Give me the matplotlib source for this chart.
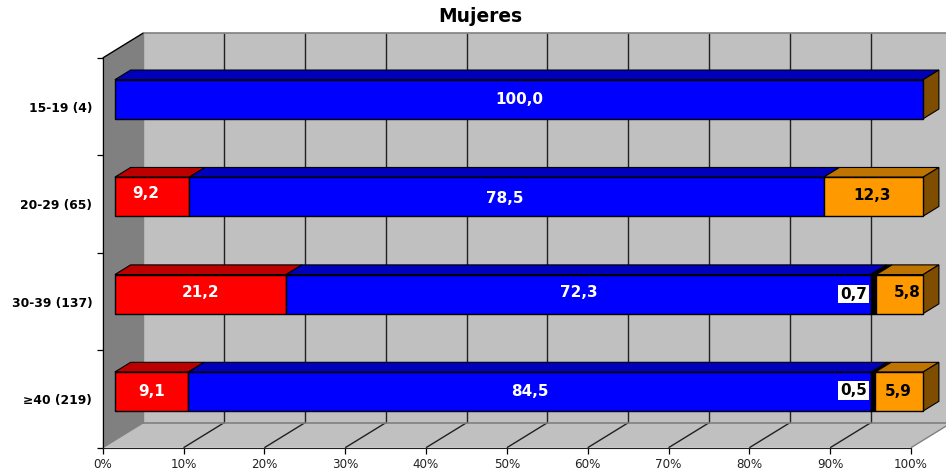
import matplotlib
matplotlib.use("Agg")
import matplotlib.pyplot as plt
from matplotlib.patches import Polygon

categories = ["15-19 (4)", "20-29 (65)", "30-39 (137)", "\u226540 (219)"]
red = [0, 9.2, 21.2, 9.1]
blue = [100.0, 78.5, 72.3, 84.5]
black = [0, 0, 0.7, 0.5]
orange = [0, 12.3, 5.8, 5.9]
xticks = [0, 10, 20, 30, 40, 50, 60, 70, 80, 90, 100]

series = [(red, "#FF0000", "#BC0000", "white"),
          (blue, "#0000FF", "#0000BC", "white"),
          (black, "#000000", "#000000", "black"),
          (orange, "#FF9900", "#BF7300", "black")]
SIDE = "#7F4D00"

W, H = 946, 472
L, R, T, B = 102.7, 911.0, 58.0, 447.7
fig = plt.figure(figsize=(W / 100, H / 100), dpi=100, facecolor="white")
ax = fig.add_axes([L / W, (H - B) / H, (R - L) / W, (B - T) / H])
ax.set_xlim(0, 100)
ax.set_ylim(3.5, -0.5)
ax.patch.set_visible(False)

PX = (R - L) / 100
PY = (B - T) / 4
DEPTH_X, DEPTH_Y = 40.6, 25.0


def dep(x, y, d):
    """Move a point from the front plane d (0..1) of the way to the back wall."""
    return (x + d * DEPTH_X / PX, y - d * DEPTH_Y / PY)


def poly(pts, fc, ec="none", lw=0.0, z=1):
    ax.add_patch(Polygon(pts, closed=True, facecolor=fc, edgecolor=ec,
                         linewidth=lw, zorder=z, clip_on=False))


ybot, ytop = 3.5, -0.5
# walls
poly([dep(0, ybot, 1), dep(100, ybot, 1), dep(100, ytop, 1), dep(0, ytop, 1)], "#C0C0C0")
poly([dep(0, ybot, 0), dep(100, ybot, 0), dep(100, ybot, 1), dep(0, ybot, 1)], "#C0C0C0")
poly([dep(0, ybot, 0), dep(0, ybot, 1), dep(0, ytop, 1), dep(0, ytop, 0)], "#808080")


def seg(a, b, color, lw=1.0, z=2):
    ax.plot([a[0], b[0]], [a[1], b[1]], color=color, lw=lw, zorder=z, clip_on=False,
            solid_capstyle="butt")


for t in xticks:
    c = "#808080" if t in (0, 100) else "#202020"
    seg(dep(t, ybot, 1), dep(t, ytop, 1), c, lw=1.0)
    seg(dep(t, ybot, 0), dep(t, ybot, 1), c, lw=1.0)
seg(dep(0, ytop, 1), dep(100, ytop, 1), "#808080", lw=1.2)
seg(dep(0, ybot, 1), dep(100, ybot, 1), "#808080", lw=1.2)
seg(dep(0, ytop, 0), dep(0, ytop, 1), "#000000", lw=1.0)

# 3D bars
GAP, BAR = 0.30, 0.387
HEIGHT = 39.0 / PY
for i in range(len(categories)):
    left = 0.0
    for vals, face, top, _ in series:
        v = vals[i]
        if v > 0:
            x0, y0 = dep(left, i, GAP)
            ax.barh(y0, v, left=x0, height=HEIGHT, color=face, edgecolor="black",
                    linewidth=1.0, zorder=4, clip_on=False)
            yt = y0 - HEIGHT / 2
            a = (x0, yt)
            b = (x0 + v, yt)
            poly([a, b, dep(b[0], yt, BAR), dep(a[0], yt, BAR)], top, "black", 0.8, 3)
        left += v
    x0, y0 = dep(left, i, GAP)
    yt, yb = y0 - HEIGHT / 2, y0 + HEIGHT / 2
    poly([(x0, yt), (x0, yb), dep(x0, yb, BAR), dep(x0, yt, BAR)], SIDE, "black", 0.8, 3)

# value labels; small nudges (pixels right, up) follow hand-placed labels
nudge = {(1, 0): (-6, 3), (2, 0): (0, 2), (1, 1): (-2, -2), (2, 1): (0, 2),
         (1, 3): (-1, 1), (2, 3): (8, 2), (3, 3): (-1, 0),
         (2, 2): (-20, 0), (3, 2): (-20, 1)}
for i in range(len(categories)):
    left = 0.0
    for j, (vals, _, _, tc) in enumerate(series):
        v = vals[i]
        if v > 0:
            x0, y0 = dep(left + v / 2, i, GAP)
            dx, dy = nudge.get((i, j), (0, 0))
            bbox = None
            if j == 2:
                bbox = dict(facecolor="white", edgecolor="none", pad=1.2)
            ax.annotate(f"{v:.1f}".replace(".", ","), (x0, y0), xytext=(dx, dy),
                        textcoords="offset pixels", ha="center", va="center",
                        fontsize=11, fontweight="bold", color=tc, zorder=6,
                        bbox=bbox, annotation_clip=False)
        left += v

# axes
for s in ("top", "right"):
    ax.spines[s].set_visible(False)
ax.spines["left"].set_color("black")
ax.spines["bottom"].set_color("#202020")
ax.spines["left"].set_zorder(5)
ax.spines["bottom"].set_zorder(5)
ax.set_xticks(xticks)
ax.set_xticklabels([f"{t}%" for t in xticks], fontsize=8.6, color="#222222")
ax.tick_params(axis="x", length=4, width=0.9, pad=3.2)
ax.set_yticks([-0.5, 0.5, 1.5, 2.5, 3.5])
ax.set_yticklabels([])
ax.tick_params(axis="y", which="major", length=4.5, width=0.9)
ax.set_yticks(range(len(categories)), minor=True)
ax.set_yticklabels(categories, minor=True, fontsize=8.9, fontweight="bold")
ax.tick_params(axis="y", which="minor", length=0, pad=7.5)

fig.text(480 / W, 1 - 17 / H, "Mujeres", ha="center", va="center", fontsize=13.4,
         fontweight="bold")

fig.savefig("out.png", dpi=100, facecolor="white")
